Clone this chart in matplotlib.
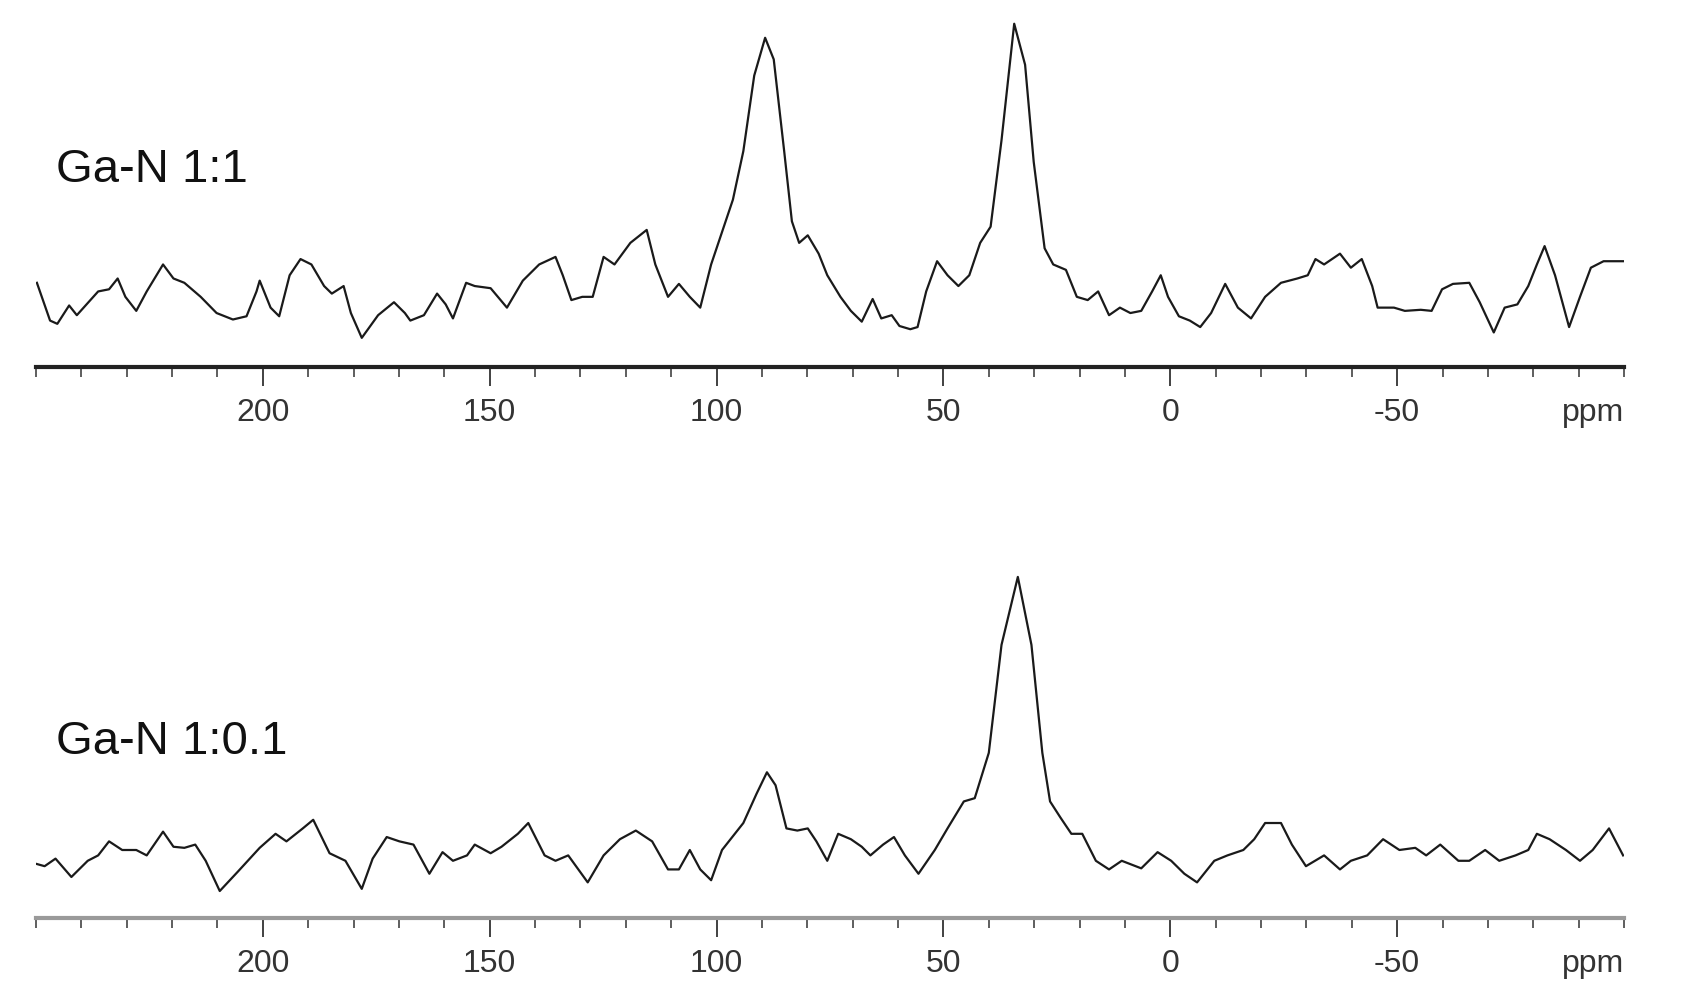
import matplotlib
matplotlib.use("Agg")
import matplotlib.pyplot as plt
from matplotlib.ticker import MultipleLocator

plt.rcParams['font.family'] = ['Liberation Sans', 'DejaVu Sans']

labels = ["Ga-N 1:1", "Ga-N 1:0.1"]

ppm_top = [249.8,246.9,245.3,242.7,241.0,236.3,233.9,232.0,230.3,227.9,225.6,222.0,219.7,217.3,213.7,210.2,206.6,203.6,201.4,200.7,198.3,196.4,194.1,191.7,189.3,186.5,184.8,182.2,180.6,178.2,174.6,171.1,168.7,167.5,164.5,161.6,159.7,158.1,155.2,153.3,149.8,146.2,142.7,139.1,135.5,133.9,132.0,129.6,127.3,124.9,122.5,119.0,115.4,113.5,110.7,108.3,105.9,103.6,101.2,98.8,96.4,94.1,91.7,89.3,87.4,85.1,83.4,81.8,79.9,77.5,75.6,72.7,70.4,68.0,65.6,63.7,61.4,59.7,57.3,55.7,53.8,51.4,49.1,46.7,44.3,41.9,39.6,37.2,34.4,32.0,30.1,27.7,25.8,23.0,20.6,18.2,15.9,13.5,11.1,8.8,6.4,4.0,2.1,0.5,-1.9,-4.3,-6.6,-9.0,-12.1,-14.9,-17.8,-20.9,-24.4,-28.0,-30.3,-32.0,-33.9,-37.4,-39.8,-42.2,-44.5,-45.7,-49.3,-51.7,-55.2,-57.6,-59.9,-62.3,-65.9,-68.2,-71.3,-73.7,-76.5,-78.9,-80.8,-82.5,-84.8,-87.9,-90.3,-92.7,-95.5,-97.9,-99.8]
int_top = [78,43,40,57,48,70,72,82,65,52,70,95,82,78,65,50,44,47,70,80,55,47,85,100,95,75,68,75,50,27,48,60,50,43,48,68,58,45,78,75,73,55,80,95,102,85,62,65,65,102,95,115,127,95,65,77,65,55,95,125,155,200,270,305,285,200,135,115,122,105,85,65,52,42,63,45,48,38,35,37,70,98,85,75,85,115,130,210,318,280,190,110,95,90,65,62,70,48,55,50,52,70,85,65,47,43,37,50,77,55,45,65,78,82,85,100,95,105,92,100,75,55,55,52,53,52,72,77,78,60,32,55,58,75,95,112,85,37,65,92,98,98,98]

ppm_bot = [249.8,248.1,245.7,242.2,238.6,236.3,233.9,231.0,227.9,225.6,222.0,219.7,217.3,214.9,212.6,209.5,205.5,200.7,197.2,194.8,191.2,188.9,185.3,181.8,178.2,175.8,172.7,169.9,166.8,163.3,160.4,158.1,155.0,153.3,149.8,147.4,143.8,141.5,137.9,135.5,132.7,128.4,124.9,121.3,117.8,114.2,110.7,108.3,105.9,103.6,101.2,98.8,94.1,91.2,88.9,87.0,84.6,82.2,79.9,78.0,75.6,73.2,70.4,68.0,66.1,63.3,60.9,58.5,55.5,51.9,49.1,45.5,43.1,40.0,37.2,33.6,30.6,28.2,26.5,24.2,21.8,19.4,16.4,13.5,10.7,6.4,2.8,-0.2,-3.1,-5.9,-9.7,-12.6,-16.1,-18.5,-20.9,-24.4,-26.8,-29.9,-33.9,-37.4,-39.8,-43.4,-46.9,-50.5,-54.0,-56.4,-59.5,-63.5,-65.9,-69.4,-72.5,-76.1,-78.9,-80.8,-83.6,-87.2,-90.3,-93.1,-96.7,-99.8]
int_bot = [50,48,55,38,53,58,71,63,63,58,80,66,65,68,53,25,43,65,78,71,83,91,60,53,27,55,75,71,68,41,61,53,58,68,60,66,78,88,58,53,58,33,58,73,81,71,45,45,63,45,35,63,88,115,135,123,83,81,83,71,53,78,73,66,58,68,75,58,41,63,83,108,111,153,253,316,253,153,108,93,78,78,53,45,53,46,61,53,41,33,53,58,63,73,88,88,68,48,58,45,53,58,73,63,65,58,68,53,53,63,53,58,63,78,73,63,53,63,83,58]

major_ticks = [200, 150, 100, 50, 0, -50]
tick_labels = ["200", "150", "100", "50", "0", "-50"]

fig = plt.figure(figsize=(16.88, 10.05), dpi=100)
W, H = 1688, 1005
L, R = 36, 1624
panels = [
    (ppm_top, int_top, labels[0], 367, 170, "#222222"),
    (ppm_bot, int_bot, labels[1], 918, 742, "#9a9a9a"),
]
for ppm, inten, lab, axis_px, lab_px, spcol in panels:
    ax = fig.add_axes([L / W, 1 - axis_px / H, (R - L) / W, 367 / H])
    ax.plot(ppm, inten, color="#1a1a1a", lw=1.6)
    ax.set_xlim(250, -100)
    ax.set_ylim(0, 340)
    for s in ["top", "left", "right"]:
        ax.spines[s].set_visible(False)
    ax.spines["bottom"].set_color(spcol)
    ax.spines["bottom"].set_linewidth(3)
    ax.set_yticks([])
    ax.set_xticks(major_ticks)
    ax.set_xticklabels(tick_labels)
    ax.xaxis.set_minor_locator(MultipleLocator(10))
    ax.tick_params(axis="x", which="major", length=14, width=1.3, color="#333333",
                   labelsize=23, labelcolor="#333333", pad=8)
    ax.tick_params(axis="x", which="minor", length=7, width=1.1, color="#333333")
    ax.annotate("ppm", xy=(-100, 0), xycoords=("data", "axes fraction"),
                xytext=(0, -22), textcoords="offset points", ha="right",
                va="top", fontsize=23, color="#333333")
    fig.text(56 / W, 1 - lab_px / H, lab, fontsize=34, color="#111111", va="center", ha="left")

fig.savefig("out.png", dpi=100, facecolor="white")
